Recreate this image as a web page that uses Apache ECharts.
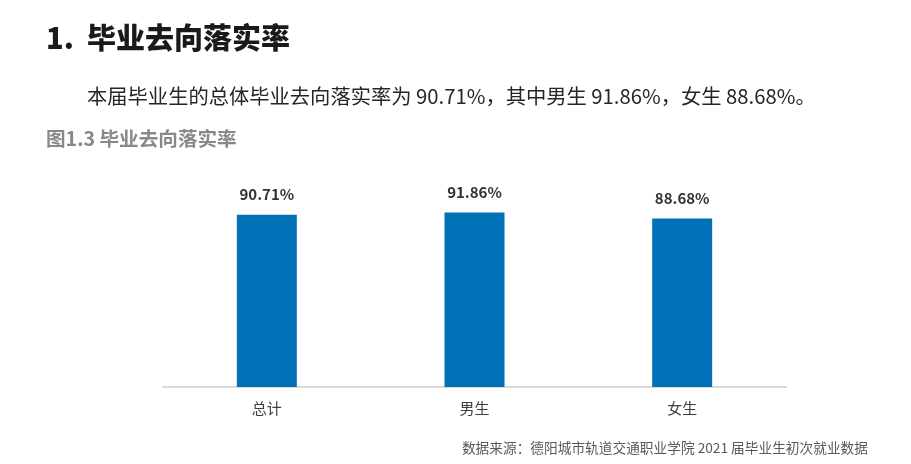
<!DOCTYPE html>
<html><head><meta charset="utf-8">
<script src="https://cdn.jsdelivr.net/npm/echarts@6/dist/echarts.min.js"></script>
<style>html,body{margin:0;padding:0;background:#fff}#c{width:911px;height:464px}</style>
</head><body><div id="c"></div>
<script>
const categories = ['总计', '男生', '女生'];
const rates = [90.71, 91.86, 88.68];
const headingText = '1.  毕业去向落实率';
const summaryText = '本届毕业生的总体毕业去向落实率为 90.71%，其中男生 91.86%，女生 88.68%。';
const captionText = '图1.3 毕业去向落实率';
const sourceText = '数据来源：德阳城市轨道交通职业学院 2021 届毕业生初次就业数据';

const FONT = '"Noto Sans CJK SC", "Noto Sans", sans-serif';
const chart = echarts.init(document.getElementById('c'), null, {renderer: 'canvas'});
chart.setOption({
  animation: false,
  textStyle: {fontFamily: FONT},
  graphic: [
    {type: 'text', left: 46, top: 23, style: {text: headingText, fontFamily: FONT, fontSize: 29, fontWeight: 900, fill: '#1a1a1a'}},
    {type: 'text', left: 87, top: 86, style: {text: summaryText, fontFamily: FONT, fontSize: 20.3, fill: '#262626'}},
    {type: 'text', left: 46, top: 129, style: {text: captionText, fontFamily: FONT, fontSize: 19.6, fontWeight: 'bold', fill: '#888888'}},
    {type: 'text', right: 43, top: 441, style: {text: sourceText, fontFamily: FONT, fontSize: 13.7, fill: '#595959'}}
  ],
  grid: {left: 163, right: 125, top: 197, bottom: 77, containLabel: false},
  xAxis: {
    type: 'category', data: categories,
    axisLine: {show: true, lineStyle: {color: '#d9d9d9', width: 2}},
    axisTick: {show: false},
    axisLabel: {fontFamily: FONT, fontSize: 15, color: '#404040', margin: 14}
  },
  yAxis: {type: 'value', min: 0, max: 100, show: false, splitLine: {show: false}},
  series: [{
    type: 'bar', data: rates, barWidth: 60,
    itemStyle: {color: '#0071b6'},
    label: {show: true, position: 'top', distance: 13, formatter: p => p.value.toFixed(2) + '%',
      fontFamily: FONT, fontSize: 15, fontWeight: 'bold', color: '#333333'}
  }]
});
</script></body></html>
